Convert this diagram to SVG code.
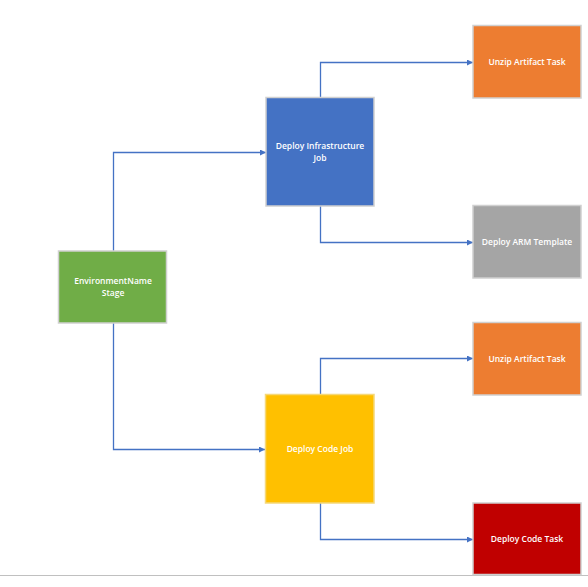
<svg xmlns="http://www.w3.org/2000/svg" width="588" height="587" viewBox="0 0 588 587">
<style>
.node{stroke:#d0d0d0;stroke-width:1.5}
.lbl{font-family:"Open Sans","Noto Sans","DejaVu Sans",sans-serif;font-size:8.5px;fill:#ffffff;text-anchor:middle;font-weight:600}
.conn{fill:none;stroke:#4472C4;stroke-width:1.3}
</style>
<defs>
<marker id="arr" viewBox="0 0 10 10" refX="10" refY="5" markerWidth="6" markerHeight="6" orient="auto" markerUnits="userSpaceOnUse">
<path d="M0,0 L10,5 L0,10 z" fill="#4472C4"/>
</marker>
</defs>
<rect width="588" height="587" fill="#ffffff"/>
<line x1="0" y1="575.5" x2="588" y2="575.5" stroke="#c0c0c0" stroke-width="1.2"/>
<g id="connectors">
<polyline class="conn" points="113.5,251 113.5,152.5 266,152.5" marker-end="url(#arr)"/>
<polyline class="conn" points="113.5,323 113.5,449.5 265,449.5" marker-end="url(#arr)"/>
<polyline class="conn" points="320.5,97 320.5,62.5 473,62.5" marker-end="url(#arr)"/>
<polyline class="conn" points="320.5,206 320.5,242.5 473,242.5" marker-end="url(#arr)"/>
<polyline class="conn" points="320.5,394 320.5,358.5 473,358.5" marker-end="url(#arr)"/>
<polyline class="conn" points="320.5,503 320.5,539.5 473,539.5" marker-end="url(#arr)"/>
</g>
<g id="stage">
<rect class="node" x="58.5" y="251" width="108" height="72" fill="#70AD47"/>
<text class="lbl" x="113" y="284">EnvironmentName</text>
<text class="lbl" x="113" y="296">Stage</text>
</g>
<g id="infra-job">
<rect class="node" x="266" y="97.5" width="108" height="108.5" fill="#4472C4"/>
<text class="lbl" x="320" y="149">Deploy Infrastructure</text>
<text class="lbl" x="320" y="161">Job</text>
</g>
<g id="code-job">
<rect class="node" x="265.5" y="394.5" width="108.5" height="108.5" fill="#FFC000" style="stroke:#f5d878"/>
<text class="lbl" x="320" y="452">Deploy Code Job</text>
</g>
<g id="unzip-1">
<rect class="node" x="473" y="25.5" width="108" height="72.5" fill="#ED7D31"/>
<text class="lbl" x="527" y="65">Unzip Artifact Task</text>
</g>
<g id="arm">
<rect class="node" x="473" y="205.5" width="108" height="72.5" fill="#A5A5A5"/>
<text class="lbl" x="527" y="245">Deploy ARM Template</text>
</g>
<g id="unzip-2">
<rect class="node" x="473" y="322.5" width="108" height="72.5" fill="#ED7D31"/>
<text class="lbl" x="527" y="362">Unzip Artifact Task</text>
</g>
<g id="code-task">
<rect class="node" x="473" y="503" width="108" height="71.5" fill="#C00000"/>
<text class="lbl" x="527" y="542">Deploy Code Task</text>
</g>
</svg>
